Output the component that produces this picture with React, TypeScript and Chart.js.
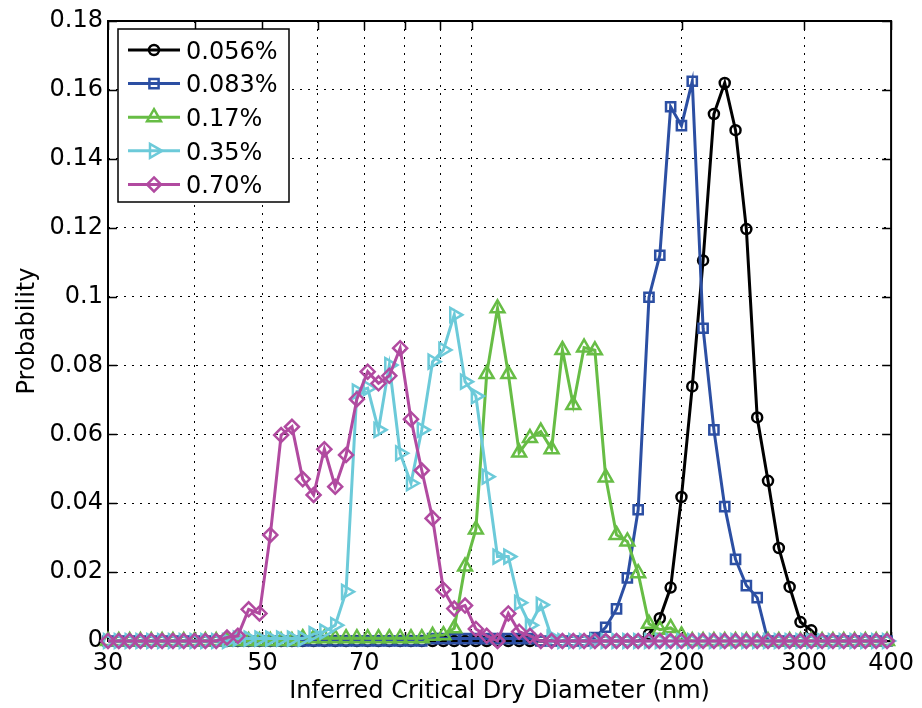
import React, { useEffect, useRef } from "react";
import { Chart, registerables } from "chart.js";

Chart.register(...registerables);

// Bin diameters (nm) (log-spaced bins)
const diameters = [
  30.0, 31.09, 32.23, 33.4, 34.62, 35.88, 37.19, 38.54, 39.95, 41.4,
  42.91, 44.47, 46.09, 47.77, 49.51, 51.32, 53.19, 55.13, 57.13, 59.22,
  61.37, 63.61, 65.93, 68.33, 70.82, 73.4, 76.07, 78.85, 81.72, 84.7,
  87.78, 90.98, 94.3, 97.73, 101.29, 104.98, 108.81, 112.77, 116.88, 121.14,
  125.56, 130.13, 134.87, 139.79, 144.88, 150.16, 155.63, 161.3, 167.18, 173.27,
  179.58, 186.13, 192.91, 199.94, 207.22, 214.77, 222.6, 230.71, 239.11, 247.83,
  256.86, 266.22, 275.92, 285.97, 296.39, 307.19, 318.38, 329.98, 342.01, 354.47,
  367.38, 380.77, 394.64,
];

const p056 = [
  0, 0, 0, 0, 0, 0, 0, 0, 0, 0,
  0, 0, 0, 0, 0, 0, 0, 0, 0, 0,
  0, 0, 0, 0, 0, 0, 0, 0, 0, 0,
  0, 0, 0, 0, 0, 0, 0, 0, 0, 0,
  0, 0, 0, 0, 0, 0, 0, 0, 0, 0,
  0.002, 0.0066, 0.0155, 0.0418, 0.0739, 0.1105, 0.153, 0.162, 0.1483, 0.1196,
  0.0649, 0.0465, 0.027, 0.0157, 0.0055, 0.0031, 0, 0, 0, 0,
  0, 0, 0,
];

const p083 = [
  0, 0, 0, 0, 0, 0, 0, 0, 0, 0,
  0, 0, 0, 0, 0, 0, 0, 0, 0, 0,
  0, 0, 0, 0, 0, 0, 0, 0, 0, 0,
  0.0007, 0.0007, 0.0007, 0.0007, 0.0007, 0.0007, 0.0007, 0.0007, 0.0007, 0.0007,
  0, 0, 0, 0, 0, 0.001, 0.004, 0.0093, 0.0183, 0.0381,
  0.0998, 0.112, 0.1551, 0.1496, 0.1625, 0.0908, 0.0613, 0.039, 0.0237, 0.0161,
  0.0126, 0, 0, 0, 0, 0, 0, 0, 0, 0,
  0, 0, 0,
];

const p17 = [
  0, 0, 0, 0, 0, 0, 0, 0, 0, 0,
  0, 0, 0, 0, 0, 0, 0, 0, 0.0008, 0.0008,
  0.0008, 0.0008, 0.0008, 0.0008, 0.0008, 0.0008, 0.0008, 0.0008, 0.0008, 0.0008,
  0.0015, 0.0017, 0.0037, 0.0216, 0.0324, 0.0775, 0.0966, 0.0775, 0.0547, 0.0589,
  0.0608, 0.0557, 0.0845, 0.0685, 0.0852, 0.0844, 0.0475, 0.0308, 0.0289, 0.0197,
  0.005, 0.0033, 0.0038, 0.0016, 0, 0, 0, 0, 0, 0,
  0, 0, 0, 0, 0, 0, 0, 0, 0, 0,
  0, 0, 0,
];

const p35 = [
  0, 0, 0, 0, 0, 0, 0, 0, 0, 0,
  0, 0, 0.0007, 0.0007, 0.0007, 0.0007, 0.0007, 0.0007, 0.0007, 0.002,
  0.0027, 0.0046, 0.0143, 0.0724, 0.0734, 0.0613, 0.0801, 0.0545, 0.0458, 0.0613,
  0.0811, 0.0845, 0.0947, 0.0753, 0.0711, 0.0477, 0.0245, 0.0245, 0.0111, 0.0046,
  0.0105, 0.001, 0, 0, 0, 0, 0, 0, 0, 0,
  0, 0, 0, 0, 0, 0, 0, 0, 0, 0,
  0, 0, 0, 0, 0, 0, 0, 0, 0, 0,
  0, 0, 0,
];

const p70 = [
  0, 0, 0, 0, 0, 0, 0, 0, 0, 0,
  0, 0.001, 0.0015, 0.0092, 0.008, 0.0308, 0.0598, 0.0622, 0.047, 0.0424,
  0.0557, 0.0448, 0.054, 0.0702, 0.0782, 0.0748, 0.077, 0.085, 0.0644, 0.0495,
  0.0356, 0.0149, 0.0094, 0.0103, 0.0035, 0.0015, 0, 0.008, 0.0027, 0.0015,
  0, 0, 0, 0, 0, 0, 0, 0, 0, 0,
  0, 0, 0, 0, 0, 0, 0, 0, 0, 0,
  0, 0, 0, 0, 0, 0, 0, 0, 0, 0,
  0, 0, 0,
];

const seriesLabels = ["0.056%", "0.083%", "0.17%", "0.35%", "0.70%"];
const seriesValues = [p056, p083, p17, p35, p70];

const xTickValues = [30, 40, 50, 60, 70, 80, 90, 100, 200, 300, 400];
const xTickLabels = ["30", "", "50", "", "70", "", "", "100", "200", "300", "400"];
const yTickValues = [0, 0.02, 0.04, 0.06, 0.08, 0.1, 0.12, 0.14, 0.16, 0.18];

const xTitle = "Inferred Critical Dry Diameter (nm)";
const yTitle = "Probability";

const FONT = "'DejaVu Sans', 'Liberation Sans', sans-serif";

const styles = [
  { color: "#000000", pointStyle: "circle", radius: 5, rotation: 0 },
  { color: "#2c4fa3", pointStyle: "rect", radius: 6.5, rotation: 0 },
  { color: "#67bd45", pointStyle: "triangle", radius: 8, rotation: 0 },
  { color: "#6ccad9", pointStyle: "triangle", radius: 8, rotation: 90 },
  { color: "#b14aa0", pointStyle: "rectRot", radius: 7, rotation: 0 },
];

function drawMarker(
  ctx: CanvasRenderingContext2D,
  style: string,
  x: number,
  y: number,
  r: number,
  rotDeg: number
) {
  let rad = (rotDeg * Math.PI) / 180;
  ctx.beginPath();
  if (style === "circle") {
    ctx.arc(x, y, r, 0, Math.PI * 2);
  } else if (style === "rect") {
    const s = r * Math.SQRT1_2;
    ctx.rect(x - s, y - s, 2 * s, 2 * s);
  } else if (style === "rectRot") {
    ctx.moveTo(x, y - r);
    ctx.lineTo(x + r, y);
    ctx.lineTo(x, y + r);
    ctx.lineTo(x - r, y);
    ctx.closePath();
  } else if (style === "triangle") {
    ctx.moveTo(x + Math.sin(rad) * r, y - Math.cos(rad) * r);
    rad += (2 * Math.PI) / 3;
    ctx.lineTo(x + Math.sin(rad) * r, y - Math.cos(rad) * r);
    rad += (2 * Math.PI) / 3;
    ctx.lineTo(x + Math.sin(rad) * r, y - Math.cos(rad) * r);
    ctx.closePath();
  }
  ctx.stroke();
}

const framePlugin = {
  id: "frame",
  beforeDatasetsDraw(chart: any) {
    const { ctx, chartArea: a, scales } = chart;
    ctx.save();
    ctx.strokeStyle = "#000";
    ctx.lineWidth = 1.5;
    ctx.beginPath();
    xTickValues.forEach((v) => {
      const px = Math.round(scales.x.getPixelForValue(v)) + 0.5;
      ctx.moveTo(px, a.bottom);
      ctx.lineTo(px, a.bottom - 9);
      ctx.moveTo(px, a.top);
      ctx.lineTo(px, a.top + 9);
    });
    yTickValues.forEach((v) => {
      const py = Math.round(scales.y.getPixelForValue(v)) + 0.5;
      ctx.moveTo(a.left, py);
      ctx.lineTo(a.left + 9, py);
      ctx.moveTo(a.right, py);
      ctx.lineTo(a.right - 9, py);
    });
    ctx.stroke();
    ctx.lineWidth = 2;
    ctx.strokeRect(a.left, a.top, a.right - a.left, a.bottom - a.top);
    ctx.restore();
  },
  afterDraw(chart: any) {
    const { ctx } = chart;
    ctx.save();
    const bx = 118, by = 29, bw = 171, bh = 173;
    ctx.fillStyle = "#fff";
    ctx.fillRect(bx, by, bw, bh);
    ctx.strokeStyle = "#000";
    ctx.lineWidth = 1.5;
    ctx.strokeRect(bx, by, bw, bh);
    ctx.font = `24px ${FONT}`;
    ctx.textAlign = "left";
    ctx.textBaseline = "alphabetic";
    seriesLabels.forEach((lab, i) => {
      const st = styles[i];
      const y = 50 + i * 33.6;
      ctx.strokeStyle = st.color;
      ctx.lineWidth = 3;
      ctx.beginPath();
      ctx.moveTo(128, y);
      ctx.lineTo(180, y);
      ctx.stroke();
      ctx.lineWidth = 2.5;
      drawMarker(ctx, st.pointStyle, 154, y, st.radius, st.rotation);
      ctx.fillStyle = "#000";
      ctx.fillText(lab, 186, y + 8.7);
    });
    ctx.restore();
  },
};

export default function App() {
  const ref = useRef<HTMLCanvasElement>(null);
  useEffect(() => {
    document.body.style.margin = "0";
    const canvas = ref.current!;
    const datasets = seriesValues.map((vals, i) => ({
      label: seriesLabels[i],
      data: vals.map((v, j) => ({ x: diameters[j], y: v })),
      borderColor: styles[i].color,
      backgroundColor: "rgba(255,255,255,0)",
      borderWidth: 3,
      pointStyle: styles[i].pointStyle as any,
      pointRadius: styles[i].radius,
      pointRotation: styles[i].rotation,
      pointBorderWidth: 2.5,
      pointBorderColor: styles[i].color,
      pointBackgroundColor: "rgba(255,255,255,0)",
      tension: 0,
      fill: false,
      clip: false as any,
      order: 4 - i,
    }));
    const chart = new Chart(canvas, {
      type: "line",
      data: { datasets },
      options: {
        responsive: false,
        animation: false,
        devicePixelRatio: 1,
        events: [],
        layout: { padding: { top: 21, right: 27, left: 0, bottom: 0 } },
        plugins: { legend: { display: false }, tooltip: { enabled: false } },
        scales: {
          x: {
            type: "logarithmic",
            min: 30,
            max: 400,
            afterBuildTicks: (s: any) => {
              s.ticks = xTickValues.map((v) => ({ value: v }));
            },
            afterFit: (s: any) => {
              s.height = 67;
            },
            ticks: {
              autoSkip: false,
              maxRotation: 0,
              minRotation: 0,
              padding: 8,
              color: "#000",
              font: { family: FONT, size: 24 },
              callback: (v: any) => {
                const k = xTickValues.indexOf(Number(v));
                return k >= 0 ? xTickLabels[k] : "";
              },
            },
            grid: { color: "#000", lineWidth: 1, drawTicks: false },
            border: { display: false, dash: [2, 6] },
            title: {
              display: true,
              text: xTitle,
              color: "#000",
              font: { family: FONT, size: 24 },
              padding: { top: 0, bottom: 2 },
            },
          },
          y: {
            type: "linear",
            min: 0,
            max: 0.18,
            afterBuildTicks: (s: any) => {
              s.ticks = yTickValues.map((v) => ({ value: v }));
            },
            afterFit: (s: any) => {
              s.width = 108;
            },
            ticks: {
              padding: 5,
              color: "#000",
              font: { family: FONT, size: 24 },
              callback: (v: any) => String(Number(Number(v).toFixed(2))),
            },
            grid: { color: "#000", lineWidth: 1, drawTicks: false },
            border: { display: false, dash: [2, 6] },
            title: {
              display: true,
              text: yTitle,
              color: "#000",
              font: { family: FONT, size: 24 },
              padding: { top: 13, bottom: 0 },
            },
          },
        },
      },
      plugins: [framePlugin],
    });
    return () => chart.destroy();
  }, []);
  return (
    <div style={{ width: 922, height: 708 }}>
      <canvas ref={ref} width={922} height={708} style={{ display: "block" }} />
    </div>
  );
}
